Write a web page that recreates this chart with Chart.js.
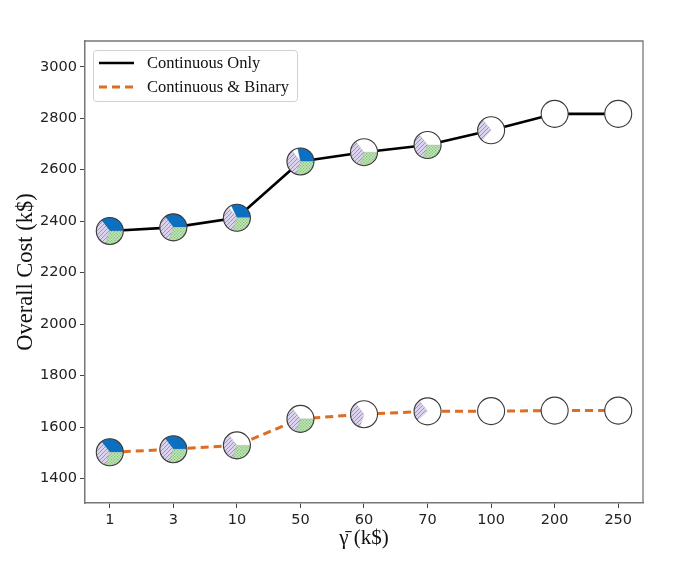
<!DOCTYPE html>
<html><head><meta charset="utf-8">
<script src="https://cdn.jsdelivr.net/npm/chart.js@4.4.0/dist/chart.umd.min.js"></script>
<style>html,body{margin:0;padding:0;background:#fff}#wrap{width:693px;height:570px}</style>
</head><body><div id="wrap"><canvas id="c" width="693" height="570"></canvas></div>
<script>
const categories = ['1','3','10','50','60','70','100','200','250'];
const continuousOnly = [2362,2376,2413,2632,2668,2696,2753,2817,2817];
const continuousBinary = [1502,1514,1529,1632,1650,1661,1662,1664,1664];
const yTickValues = [1400,1600,1800,2000,2200,2400,2600,2800,3000];
// pie-marker shares: fraction of each category's sector that is filled
const onlyBlue   = [1,1,0.9,0.8,0,0,0,0,0];
const onlyPurple = [1,1,1,1,1,1,0.8,0,0];
const onlyGreen  = [1,1,1,1,1,1,0,0,0];
const binBlue    = [1,1,0,0,0,0,0,0,0];
const binPurple  = [1,1,1,1,1,0.75,0,0,0];
const binGreen   = [1,1,1,1,0,0,0,0,0];

const ORANGE = '#dd6c25';
const BLUE = '#0b6fc2';
const SECTOR_START = [0,128,252];
const SECTOR_SIZE = [128,124,108];

function makePattern(kind){
  const c = document.createElement('canvas');
  const s = kind === 'purple' ? 4 : 3;
  c.width = s; c.height = s;
  const g = c.getContext('2d');
  if (kind === 'purple') {
    g.fillStyle = '#dcd4ee'; g.fillRect(0,0,s,s);
    g.strokeStyle = '#9e90cc'; g.lineWidth = 1;
    g.beginPath();
    g.moveTo(0,s); g.lineTo(s,0);
    g.moveTo(-s/2,s/2); g.lineTo(s/2,-s/2);
    g.moveTo(s/2,s*1.5); g.lineTo(s*1.5,s/2);
    g.stroke();
  } else {
    g.fillStyle = '#c8e6be'; g.fillRect(0,0,s,s);
    g.fillStyle = '#80c276';
    g.fillRect(0,0,1.3,1.3); g.fillRect(1.5,1.5,1.3,1.3);
  }
  return g.createPattern(c,'repeat');
}

const R = 13.5;
function wedge(ctx,x,y,k,frac,fill){
  if (frac <= 0) return;
  const a0 = SECTOR_START[k];
  const s = a0*Math.PI/180, e = (a0 + SECTOR_SIZE[k]*frac)*Math.PI/180;
  ctx.beginPath();
  ctx.moveTo(x,y);
  ctx.arc(x,y,R,-s,-e,true);
  ctx.closePath();
  ctx.fillStyle = fill; ctx.fill();
  ctx.strokeStyle = 'rgba(150,150,150,0.5)'; ctx.lineWidth = 0.5; ctx.stroke();
}

const shares = [
  [onlyBlue, onlyPurple, onlyGreen],
  [binBlue, binPurple, binGreen]
];

const piePlugin = {
  id:'pies',
  afterDatasetsDraw(chart){
    const ctx = chart.ctx;
    const pP = makePattern('purple'), pG = makePattern('green');
    chart.data.datasets.forEach((ds,di)=>{
      const meta = chart.getDatasetMeta(di);
      const [b,p,g] = shares[di];
      meta.data.forEach((pt,i)=>{
        const x = pt.x, y = pt.y;
        ctx.save();
        ctx.beginPath(); ctx.arc(x,y,R,0,Math.PI*2);
        ctx.fillStyle = '#fff'; ctx.fill();
        wedge(ctx,x,y,0,b[i],BLUE);
        wedge(ctx,x,y,1,p[i],pP);
        wedge(ctx,x,y,2,g[i],pG);
        ctx.beginPath(); ctx.arc(x,y,R,0,Math.PI*2);
        ctx.strokeStyle = '#3a3a3a'; ctx.lineWidth = 1.1; ctx.stroke();
        ctx.restore();
      });
    });
  },
  afterDraw(chart){
    const ctx = chart.ctx, a = chart.chartArea;
    ctx.save();
    ctx.strokeStyle = '#777'; ctx.lineWidth = 1.3;
    ctx.beginPath();
    ctx.moveTo(a.left, a.top); ctx.lineTo(a.right, a.top); ctx.lineTo(a.right, a.bottom);
    ctx.stroke();
    const lx = a.left + 8, ly = a.top + 9, lw = 204, lh = 51;
    ctx.beginPath();
    ctx.roundRect(lx+0.5, ly+0.5, lw, lh, 3);
    ctx.fillStyle = 'rgba(255,255,255,0.85)'; ctx.fill();
    ctx.strokeStyle = '#d0d0d0'; ctx.lineWidth = 1; ctx.stroke();
    chart.data.datasets.forEach((ds,i)=>{
      const yy = ly + 13 + i*24;
      ctx.beginPath();
      ctx.setLineDash(ds.borderDash || []);
      ctx.strokeStyle = ds.borderColor; ctx.lineWidth = ds.borderWidth;
      ctx.moveTo(lx+6, yy); ctx.lineTo(lx+41, yy); ctx.stroke();
      ctx.setLineDash([]);
      ctx.fillStyle = '#111';
      ctx.font = '16.5px "Liberation Serif"';
      ctx.textBaseline = 'middle'; ctx.textAlign = 'left';
      ctx.fillText(ds.label, lx+54, yy+1);
    });
    ctx.restore();
  }
};

const xIdx = categories.map((_,i)=>i);

new Chart(document.getElementById('c'), {
  type:'line',
  data:{
    datasets:[
      {label:'Continuous Only', data: continuousOnly.map((v,i)=>({x:xIdx[i], y:v})),
       borderColor:'#000', borderWidth:2.6, pointRadius:0, tension:0, fill:false},
      {label:'Continuous & Binary', data: continuousBinary.map((v,i)=>({x:xIdx[i], y:v})),
       borderColor:ORANGE, borderWidth:3, borderDash:[8,5], pointRadius:0, tension:0, fill:false}
    ]
  },
  options:{
    responsive:false, animation:false,
    layout:{padding:{top:41,right:50,left:0,bottom:0}},
    plugins:{legend:{display:false}, tooltip:{enabled:false}},
    scales:{
      x:{
        type:'linear', min:-0.39, max:8.39,
        afterBuildTicks(s){ s.ticks = xIdx.map(v=>({value:v})); },
        afterFit(s){ s.height = 67; },
        ticks:{ callback:(v)=>categories[v] ?? '', font:{family:'DejaVu Sans', size:14.5}, color:'#222', padding:4, maxRotation:0, autoSkip:false },
        grid:{ display:true, drawOnChartArea:false, drawTicks:true, tickLength:5, color:'#444', lineWidth:1 },
        border:{ display:true, color:'#777', width:1.5 },
        title:{ display:true, text:'γ̄ (k$)', font:{family:'Liberation Serif', size:21}, color:'#111', padding:{top:0,bottom:19} }
      },
      y:{
        type:'linear', min:1305, max:3100,
        afterBuildTicks(s){ s.ticks = yTickValues.map(v=>({value:v})); },
        afterFit(s){ s.width = 85; },
        ticks:{ callback:(v)=>String(v), font:{family:'DejaVu Sans', size:14.5}, color:'#222', padding:3 },
        grid:{ display:true, drawOnChartArea:false, drawTicks:true, tickLength:5, color:'#444', lineWidth:1 },
        border:{ display:true, color:'#777', width:1.5 },
        title:{ display:true, text:'Overall Cost (k$)', font:{family:'Liberation Serif', size:22.5}, color:'#111', padding:{top:13,bottom:0} }
      }
    }
  },
  plugins:[piePlugin]
});
</script>
</body></html>
